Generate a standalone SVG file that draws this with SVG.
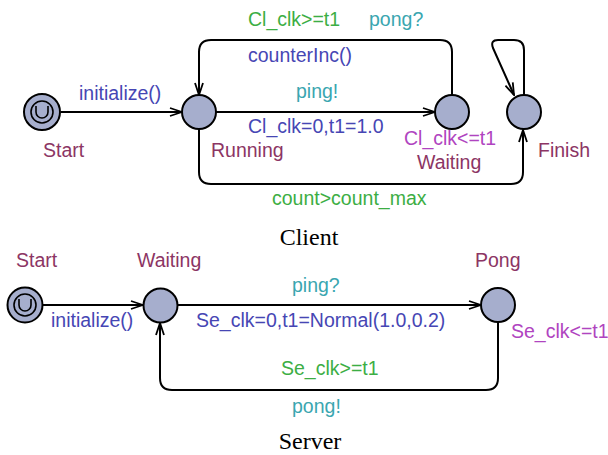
<svg xmlns="http://www.w3.org/2000/svg" width="608" height="455" viewBox="0 0 608 455">
<style>
text{font-family:"Liberation Sans",Arial,sans-serif;font-size:19.5px}
.nm{fill:#8c3564}.as{fill:#4646b4}.gd{fill:#3cae44}.sy{fill:#3aa6b0}.inv{fill:#b044c0}
.cap{font-family:"Liberation Serif","Times New Roman",serif;font-size:24px;fill:#000}
.node{fill:#a6aecd;stroke:#000;stroke-width:2}
.edge{fill:none;stroke:#000;stroke-width:2}
</style>
<defs>
<marker id="arr" viewBox="0 0 14 10" refX="13" refY="5" markerWidth="14" markerHeight="10" orient="auto" markerUnits="userSpaceOnUse">
<path d="M1,1 L13,5 L1,9" fill="none" stroke="#000" stroke-width="1.8"/>
</marker>
</defs>
<g id="connectors">
<path class="edge" d="M61,112 H182" marker-end="url(#arr)"/>
<path class="edge" d="M216,112 H435" marker-end="url(#arr)"/>
<path class="edge" d="M452,95 V52 Q452,40 440,40 H211 Q199,40 199,52 V95" marker-end="url(#arr)"/>
<path class="edge" d="M199,129 V172 Q199,184 211,184 H511 Q523,184 523,172 V130" marker-end="url(#arr)"/>
<path class="edge" d="M524,95 V50 Q524,40 514,40 H498 Q490,40 493,48 L514,95" marker-end="url(#arr)"/>
<path class="edge" d="M43,305 H143" marker-end="url(#arr)"/>
<path class="edge" d="M178,305 H481" marker-end="url(#arr)"/>
<path class="edge" d="M498,322 V378 Q498,390 486,390 H172 Q160,390 160,378 V323" marker-end="url(#arr)"/>
</g>
<g id="client-start">
<circle class="node" cx="42" cy="112" r="18"/>
<circle cx="42" cy="112" r="11" fill="none" stroke="#000" stroke-width="1.6"/>
<path d="M36,106 V112 A6,6 0 0 0 48,112 V106" fill="none" stroke="#000" stroke-width="1.6"/>
<text class="nm" x="43" y="157">Start</text>
</g>
<g id="client-running">
<circle class="node" cx="199" cy="112" r="17"/>
<text class="nm" x="211" y="157">Running</text>
</g>
<g id="client-waiting">
<circle class="node" cx="452" cy="112" r="17"/>
<text class="inv" x="404" y="145">Cl_clk&lt;=t1</text>
<text class="nm" x="417" y="169">Waiting</text>
</g>
<g id="client-finish">
<circle class="node" cx="524" cy="112" r="17"/>
<text class="nm" x="538" y="157">Finish</text>
</g>
<g id="client-labels">
<text class="as" x="79" y="100">initialize()</text>
<text class="gd" x="248" y="26">Cl_clk&gt;=t1</text>
<text class="sy" x="369" y="26">pong?</text>
<text class="as" x="248" y="62">counterInc()</text>
<text class="sy" x="296" y="98">ping!</text>
<text class="as" x="248" y="133">Cl_clk=0,t1=1.0</text>
<text class="gd" x="272" y="205">count&gt;count_max</text>
<text class="cap" x="309" y="245" text-anchor="middle">Client</text>
</g>
<g id="server-start">
<circle class="node" cx="25" cy="305" r="17.5"/>
<circle cx="25" cy="305" r="11" fill="none" stroke="#000" stroke-width="1.6"/>
<path d="M19,299 V305 A6,6 0 0 0 31,305 V299" fill="none" stroke="#000" stroke-width="1.6"/>
<text class="nm" x="16" y="267">Start</text>
</g>
<g id="server-waiting">
<circle class="node" cx="160.5" cy="305.5" r="17"/>
<text class="nm" x="137" y="267">Waiting</text>
</g>
<g id="server-pong">
<circle class="node" cx="498" cy="305" r="17"/>
<text class="nm" x="475" y="267">Pong</text>
<text class="inv" x="511" y="338">Se_clk&lt;=t1</text>
</g>
<g id="server-labels">
<text class="as" x="51" y="327">initialize()</text>
<text class="sy" x="292" y="292">ping?</text>
<text class="as" x="196" y="327">Se_clk=0,t1=Normal(1.0,0.2)</text>
<text class="gd" x="281" y="375">Se_clk&gt;=t1</text>
<text class="sy" x="292" y="413">pong!</text>
<text class="cap" x="310" y="449" text-anchor="middle">Server</text>
</g>
</svg>
